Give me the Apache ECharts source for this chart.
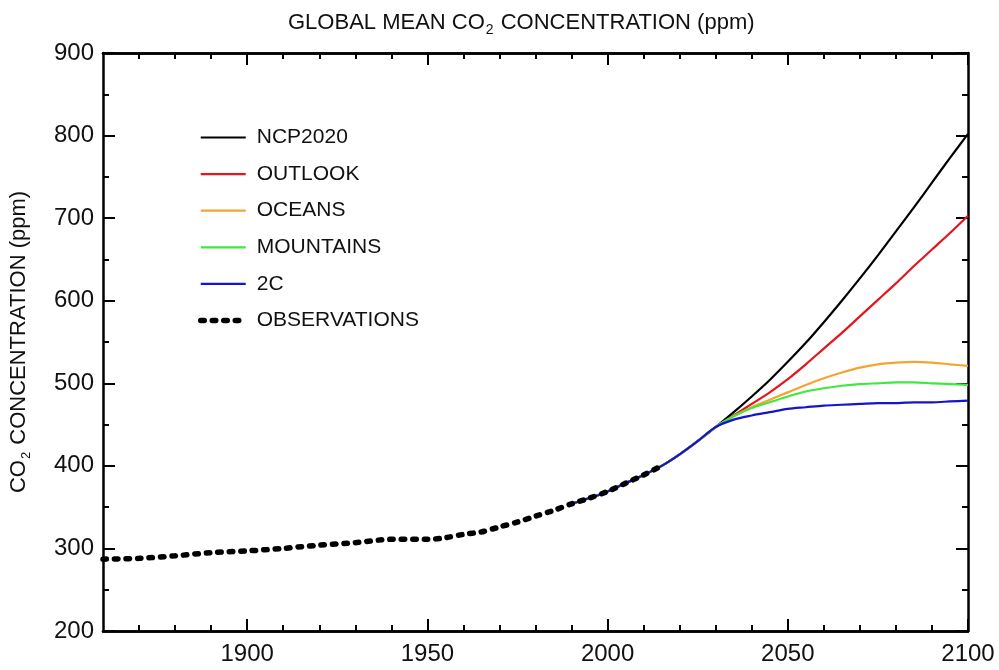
<!DOCTYPE html>
<html>
<head>
<meta charset="utf-8">
<script src="https://cdn.jsdelivr.net/npm/echarts@6/dist/echarts.min.js"></script>
<style>html,body{margin:0;padding:0;background:#fff}#main{width:999px;height:670px}</style>
</head>
<body>
<div id="main"></div>
<script>
// observed concentration
var obsYears = [1860, 1870, 1880, 1890, 1900, 1910, 1920, 1930, 1940, 1950, 1955, 1960, 1965, 1970, 1975, 1980, 1985, 1990, 1995, 2000, 2005, 2010, 2015];
var obsValues = [287, 288, 291, 295, 297, 300, 304, 307, 311, 311, 313, 317, 320, 326, 332, 339, 346, 354, 361, 369, 379, 389, 400];

// scenarios
var projYears = [1990, 1995, 2000, 2005, 2010, 2015, 2020, 2025, 2030, 2035, 2040, 2045, 2050, 2055, 2060, 2065, 2070, 2075, 2080, 2085, 2090, 2095, 2100];
var ncp2020 = [354, 361, 369, 379, 389, 400, 414, 430, 447, 465, 484, 504, 526, 549, 574, 600, 627, 655, 684, 713, 743, 773, 802];
var outlook = [354, 361, 369, 379, 389, 400, 414, 430, 447, 461, 475, 489, 505, 523, 542, 561, 581, 601, 621, 642, 662, 682, 703];
var oceans = [354, 361, 369, 379, 389, 400, 414, 430, 447, 460, 471, 480, 489, 498, 506, 513, 519, 523, 525, 526, 525, 523, 521];
var mountains = [354, 361, 369, 379, 389, 400, 414, 430, 447, 460, 470, 477, 484, 490, 494, 497, 499, 500, 501, 501, 500, 499, 498];
var twoC = [354, 361, 369, 379, 389, 400, 414, 430, 447, 456, 461, 465, 469, 471, 473, 474, 475, 476, 476, 477, 477, 478, 479];

// ticks
var majorYears = [1900, 1950, 2000, 2050, 2100];
var minorYears = [1870, 1880, 1890, 1910, 1920, 1930, 1940, 1960, 1970, 1980, 1990, 2010, 2020, 2030, 2040, 2060, 2070, 2080, 2090];

function pairs(xs, ys) {
    return xs.map(function (x, i) { return [x, ys[i]]; });
}

var fontName = 'Liberation Sans';
var axisCol = '#000';

function xAx(pos, values, len, labels) {
    return {
        type: 'value', position: pos, min: 1860, max: 2100,
        axisLine: {show: true, onZero: false, lineStyle: {color: axisCol, width: 2.5}},
        axisTick: {show: true, inside: true, length: len, customValues: values, lineStyle: {color: axisCol, width: 2}},
        axisLabel: labels ? {
            show: true, customValues: majorYears, fontSize: 24, fontFamily: fontName, color: '#111', margin: 11,
            formatter: function (v) { return String(v); }
        } : {show: false},
        splitLine: {show: false}
    };
}
function yAx(pos, labels) {
    var ax = {
        type: 'value', position: pos, min: 200, max: 900, interval: 100,
        axisLine: {show: true, onZero: false, lineStyle: {color: axisCol, width: 2.5}},
        axisTick: {show: true, inside: true, length: 12, lineStyle: {color: axisCol, width: 2}},
        minorTick: {show: true, splitNumber: 2, length: 6, lineStyle: {color: axisCol, width: 2}},
        axisLabel: labels ? {show: true, fontSize: 24, fontFamily: fontName, color: '#111', margin: 9} : {show: false},
        splitLine: {show: false}, minorSplitLine: {show: false}
    };
    if (labels) {
        ax.name = '{a|CO}{s|2}{a| CONCENTRATION (ppm)}';
        ax.nameLocation = 'middle';
        ax.nameGap = 70;
        ax.nameTextStyle = {
            rich: {
                a: {fontSize: 22, fontFamily: fontName, color: '#111', lineHeight: 28, verticalAlign: 'middle'},
                s: {fontSize: 13, fontFamily: fontName, color: '#111', lineHeight: 28, verticalAlign: 'bottom', padding: [0, 1, 0, 1]}
            }
        };
    }
    return ax;
}

function lineSeries(name, color, data) {
    return {
        name: name, type: 'line', data: data, symbol: 'none', smooth: 0.3,
        lineStyle: {color: color, width: 2.2}, itemStyle: {color: color}, z: 2
    };
}

var chart = echarts.init(document.getElementById('main'));
chart.setOption({
    backgroundColor: '#fff',
    animation: false,
    title: {
        text: '{a|GLOBAL MEAN CO}{s|2}{a| CONCENTRATION (ppm)}',
        left: 283, top: 4,
        textStyle: {
            fontWeight: 'normal',
            rich: {
                a: {fontSize: 22, fontFamily: fontName, fontWeight: 'normal', color: '#111', lineHeight: 28, verticalAlign: 'middle'},
                s: {fontSize: 14, fontFamily: fontName, fontWeight: 'normal', color: '#111', lineHeight: 28, verticalAlign: 'bottom', padding: [0, 1, 0, 1]}
            }
        }
    },
    grid: {left: 102, right: 31, top: 53, bottom: 39, containLabel: false},
    legend: {
        orient: 'vertical', left: 193, top: 122,
        itemWidth: 45, itemHeight: 20, itemGap: 15.6,
        itemStyle: {opacity: 0},
        lineStyle: {width: 'inherit'},
        textStyle: {fontSize: 21, fontFamily: fontName, color: '#111', lineHeight: 20, padding: [0, 0, 0, 6]},
        data: ['NCP2020', 'OUTLOOK', 'OCEANS', 'MOUNTAINS', '2C', 'OBSERVATIONS']
    },
    xAxis: [
        xAx('bottom', majorYears, 12, true),
        xAx('bottom', minorYears, 6, false),
        xAx('top', majorYears, 12, false),
        xAx('top', minorYears, 6, false)
    ],
    yAxis: [yAx('left', true), yAx('right', false)],
    series: [
        lineSeries('NCP2020', '#000000', pairs(projYears, ncp2020)),
        lineSeries('OUTLOOK', '#e8141c', pairs(projYears, outlook)),
        lineSeries('OCEANS', '#f4a531', pairs(projYears, oceans)),
        lineSeries('MOUNTAINS', '#3fe83f', pairs(projYears, mountains)),
        lineSeries('2C', '#1414cc', pairs(projYears, twoC)),
        {
            name: 'OBSERVATIONS', type: 'line', data: pairs(obsYears, obsValues), symbol: 'none',
            smooth: 0.3, z: 3,
            lineStyle: {color: '#000', width: 5.5, type: [3.5, 8], cap: 'round'},
            itemStyle: {color: '#000'}
        }
    ]
});
</script>
</body>
</html>
